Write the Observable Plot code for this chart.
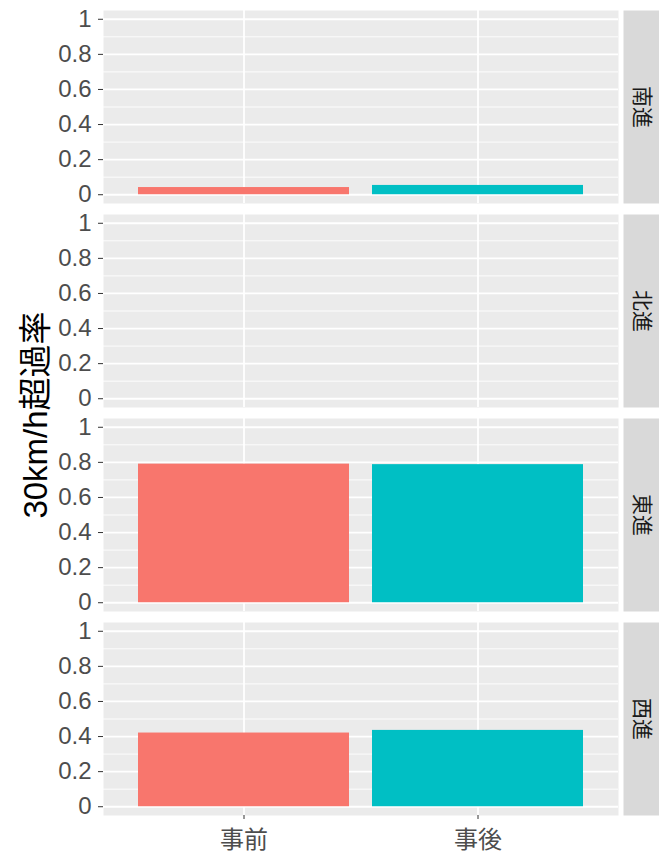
<!DOCTYPE html>
<html>
<head>
<meta charset="utf-8">
<script src="https://cdn.jsdelivr.net/npm/d3@7"></script>
<script src="https://cdn.jsdelivr.net/npm/@observablehq/plot@0.6"></script>
<style>
  html, body { margin: 0; padding: 0; background: #ffffff; }
  #chart { width: 659px; height: 854px; }
</style>
</head>
<body>
<div id="chart"></div>
<script>
// ---- data ----
const directions = ["南進", "北進", "東進", "西進"];
const periods = ["事前", "事後"];
const beforeValues = [0.041, 0, 0.79, 0.42];
const afterValues = [0.053, 0, 0.787, 0.435];
const yTicks = [0, 0.2, 0.4, 0.6, 0.8, 1];
const yMinorTicks = [0.1, 0.3, 0.5, 0.7, 0.9];
const periodColors = ["#F8766D", "#00BFC4"];
const yTitle = "30km/h超過率";

const table = [];
directions.forEach((dir, i) => {
  table.push({dir, period: periods[0], value: beforeValues[i]});
  table.push({dir, period: periods[1], value: afterValues[i]});
});

const W = 659, H = 854;
const mL = 103, mR = 41, mT = 10, mB = 38;

const chart = Plot.plot({
  width: W,
  height: H,
  marginLeft: mL,
  marginRight: mR,
  marginTop: mT,
  marginBottom: mB,
  style: {
    fontFamily: "'Liberation Sans', 'Noto Sans CJK JP', sans-serif",
    background: "#ffffff",
    overflow: "visible"
  },
  x: {domain: periods, paddingInner: 0.1, paddingOuter: 0.15, axis: null},
  y: {domain: [-0.05, 1.05], axis: null},
  fy: {domain: directions, paddingInner: 0.053, paddingOuter: 0, axis: null},
  color: {domain: periods, range: periodColors},
  marks: [
    Plot.frame({fill: "#ebebeb", stroke: "none"}),
    Plot.ruleY(yMinorTicks, {stroke: "#ffffff", strokeWidth: 0.9}),
    Plot.ruleY(yTicks, {stroke: "#ffffff", strokeWidth: 1.8}),
    Plot.ruleX(periods, {x: d => d, stroke: "#ffffff", strokeWidth: 1.8}),
    Plot.barY(table, {x: "period", y: "value", fy: "dir", fill: "period"}),
    Plot.frame({fill: "#d9d9d9", stroke: "none", insetLeft: W - mL - mR + 5, insetRight: -mR}),
    Plot.text(directions, {
      fy: d => d, text: d => d, frameAnchor: "right", textAnchor: "middle",
      dx: 23, rotate: 90, fontSize: 21, fill: "#1a1a1a"
    }),
    Plot.axisY(yTicks, {
      tickSize: 5, tickPadding: 7, fontSize: 24, fill: "#4d4d4d",
      stroke: "#333333", tickFormat: d => String(d), label: null
    }),
    Plot.axisX(periods, {
      tickSize: 4, tickPadding: 11, fontSize: 24, fill: "#4d4d4d",
      stroke: "#333333", label: null
    })
  ]
});

document.getElementById("chart").appendChild(chart);

// y-axis title spanning all facets
d3.select(chart).append("text")
  .attr("transform", `translate(47, ${(mT + (H - mB)) / 2 + 2}) rotate(-90)`)
  .attr("text-anchor", "middle")
  .attr("font-size", 33)
  .attr("fill", "#000000")
  .text(yTitle);
</script>
</body>
</html>
